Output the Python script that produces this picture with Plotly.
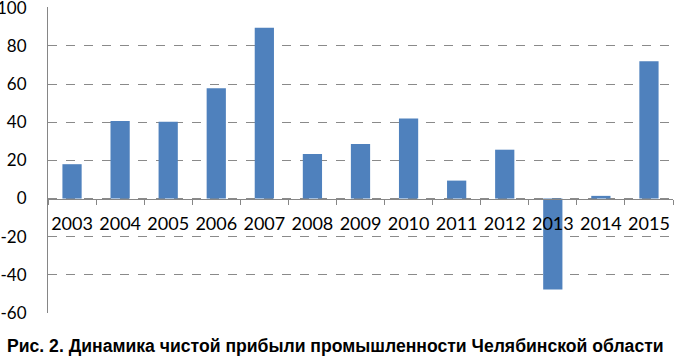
import plotly.graph_objects as go

years = ["2003", "2004", "2005", "2006", "2007", "2008", "2009",
         "2010", "2011", "2012", "2013", "2014", "2015"]
profit = [18.0, 40.6, 40.2, 57.8, 89.5, 23.3, 28.6, 42.0, 9.4, 25.6, -47.7, 1.4, 71.9]
y_ticks = [-60, -40, -20, 0, 20, 40, 60, 80, 100]
y_ticktext = ["-60", "-40", "-20", "0", "20", "40", "60", "80", "100"]
caption = "Рис. 2. Динамика чистой прибыли промышленности Челябинской области"

fig = go.Figure(go.Bar(x=years, y=profit, marker=dict(color="#4F81BD", line=dict(width=0)),
                       width=0.4))

ymin, ymax = -60, 100.4
fig.update_layout(
    width=674, height=357,
    margin=dict(l=48, r=1, t=7, b=44),
    plot_bgcolor="white", paper_bgcolor="white",
    showlegend=False,
    font=dict(family="Lato, Carlito, sans-serif", size=16, color="#000"),
    xaxis=dict(
        type="category", automargin=False,
        anchor="free", position=(0 - ymin) / (ymax - ymin),
        showline=True, linecolor="#868686", linewidth=1,
        ticks="outside", tickson="boundaries", ticklen=5, tickcolor="#868686",
        showgrid=False, zeroline=False, tickangle=0,
        ticklabeloverflow="allow", ticklabelstandoff=9,
        tickfont=dict(family="Lato, Carlito, sans-serif", size=18, color="#000"),
        range=[-0.5, len(years) - 0.5],
    ),
    yaxis=dict(
        range=[ymin, ymax], tickvals=y_ticks, ticktext=y_ticktext, automargin=False,
        showgrid=True, gridcolor="#8a8a8a", griddash="dash", gridwidth=1,
        zeroline=False, ticklabeloverflow="allow",
        showline=True, linecolor="#868686", linewidth=1,
        ticks="", ticklabelstandoff=17,
        tickfont=dict(family="Lato, Carlito, sans-serif", size=17, color="#000"),
    ),
    annotations=[dict(
        text="<b>" + caption + "</b>", xref="paper", yref="paper",
        x=-43 / 625, xanchor="left", y=-33 / 306, yanchor="middle", showarrow=False,
        font=dict(family="Liberation Sans, Arial, sans-serif", size=17.6, color="#000"),
    )],
)

fig.write_html("out.html", config={"displayModeBar": False},
               post_script="document.body.style.margin='0';document.body.style.overflow='hidden';")
